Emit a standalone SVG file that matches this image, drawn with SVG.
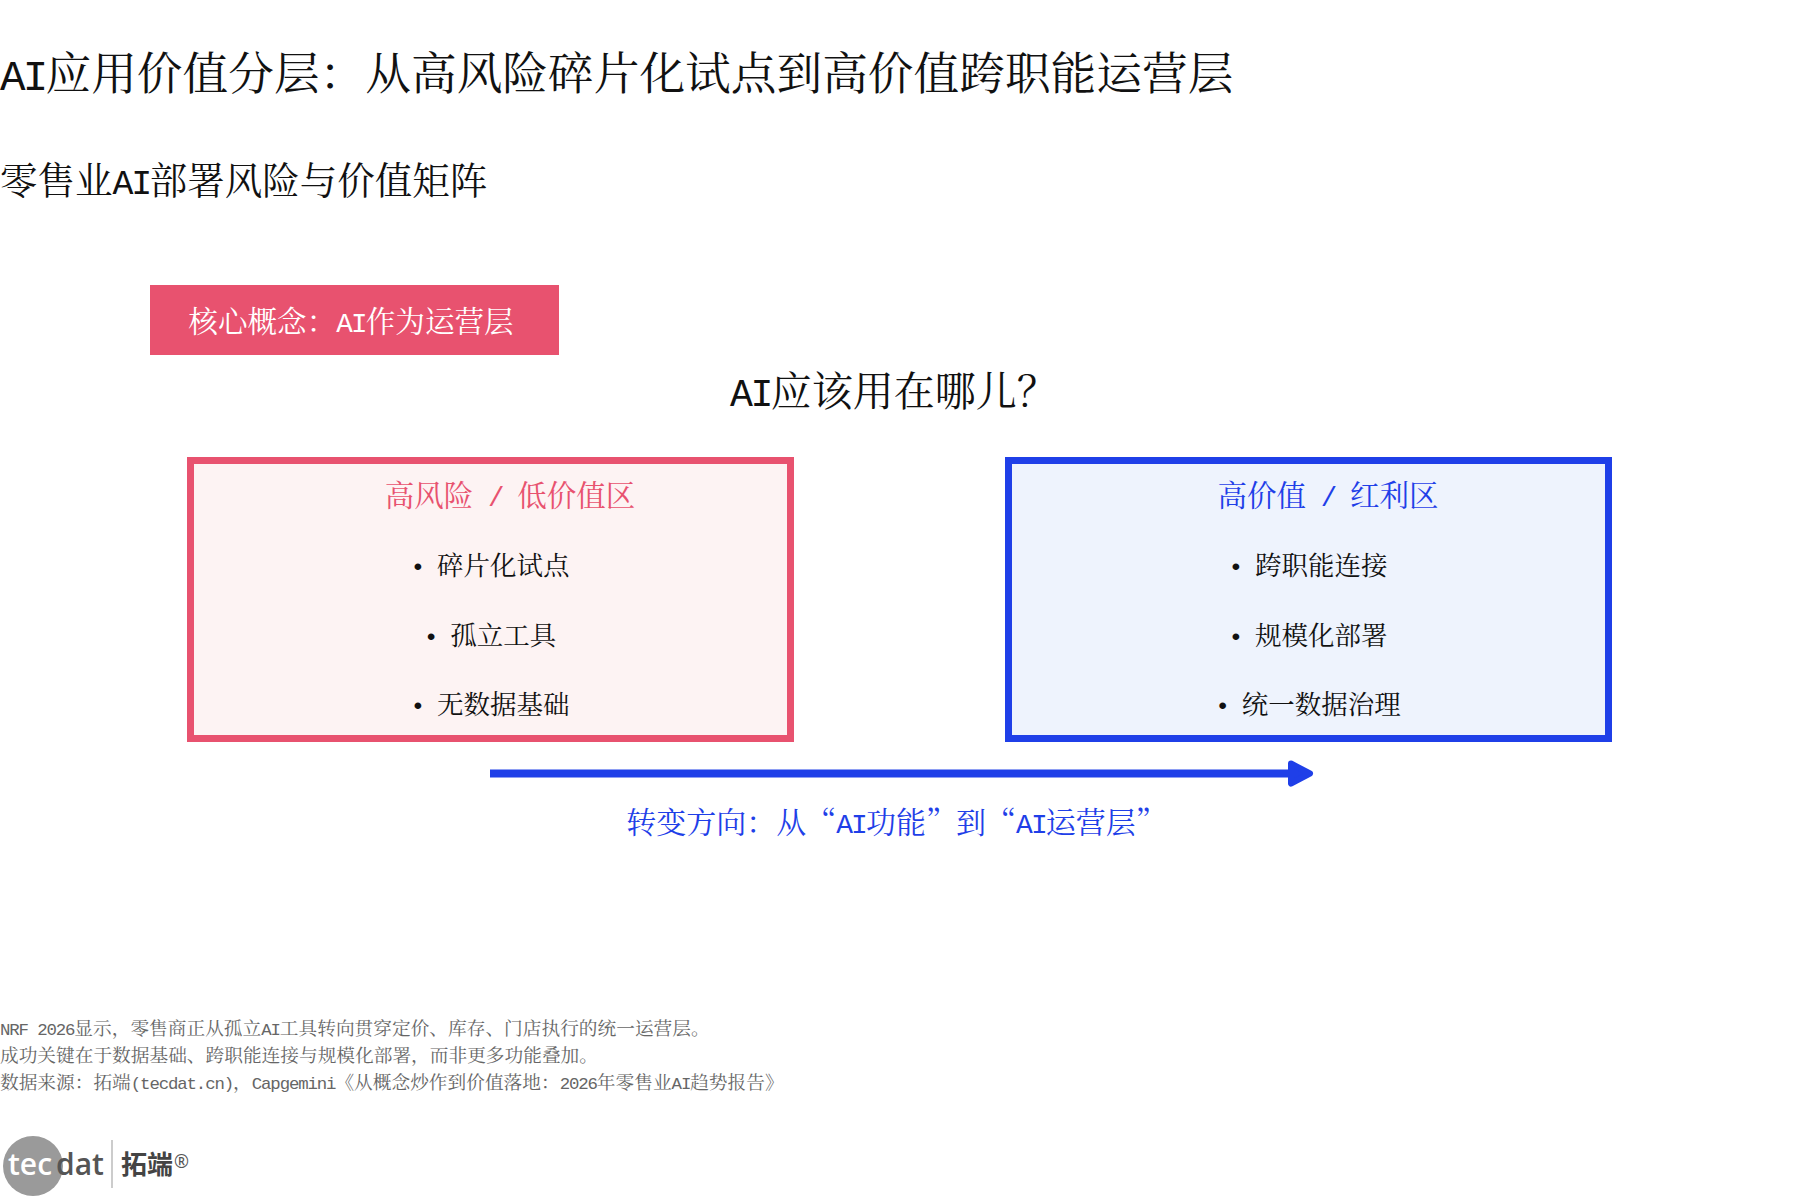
<svg xmlns="http://www.w3.org/2000/svg" width="1800" height="1200" viewBox="0 0 1800 1200">
<style>
text{font-family:"Noto Serif CJK SC","Noto Sans CJK SC",serif;white-space:pre}
.l{font-family:"Liberation Mono",monospace;font-size:.93em;letter-spacing:-.0651em}
.c{text-anchor:middle}
.i{font-size:26.500px;fill:#111;text-anchor:middle}
.h{font-size:29.500px;text-anchor:middle}
.f{font-size:18.700px;fill:#666}
.s{font-family:"Open Sans",sans-serif}
.box{stroke-width:7}
</style>
<rect width="1800" height="1200" fill="#fff"/>
<text x="0" y="90" font-size="45.700" fill="#111"><tspan class="l">AI</tspan>应用价值分层：从高风险碎片化试点到高价值跨职能运营层</text>
<text x="0" y="194" font-size="37.500" fill="#111">零售业<tspan class="l">AI</tspan>部署风险与价值矩阵</text>
<g id="concept"><rect x="150" y="285" width="409" height="70" fill="#e8526f"/><text x="351" y="332" font-size="29.600" fill="#fff" class="c">核心概念：<tspan class="l">AI</tspan>作为运营层</text></g>
<text x="730" y="406" font-size="41" fill="#111"><tspan class="l">AI</tspan>应该用在哪儿？</text>
<g id="risk"><rect class="box" x="190.500" y="460.500" width="600" height="278" fill="#fdf3f3" stroke="#e8526f"/>
<text x="510" y="506" class="h" fill="#e8526f">高风险<tspan class="l"> / </tspan>低价值区</text>
<text x="490" y="575" class="i"><tspan class="l">• </tspan>碎片化试点</text><text x="490" y="645" class="i"><tspan class="l">• </tspan>孤立工具</text><text x="490" y="714" class="i"><tspan class="l">• </tspan>无数据基础</text></g>
<g id="value"><rect class="box" x="1008.500" y="460.500" width="600" height="278" fill="#eef3fd" stroke="#1f3fe8"/>
<text x="1328" y="506" class="h" fill="#1f3fe8">高价值<tspan class="l"> / </tspan>红利区</text>
<text x="1308" y="575" class="i"><tspan class="l">• </tspan>跨职能连接</text><text x="1308" y="645" class="i"><tspan class="l">• </tspan>规模化部署</text><text x="1308" y="714" class="i"><tspan class="l">• </tspan>统一数据治理</text></g>
<g id="connectors"><path d="M490 773.500H1292" stroke="#1f3fe8" stroke-width="8" fill="none"/><path d="M1291 763.500L1310 773.500L1291 783.500Z" fill="#1f3fe8" stroke="#1f3fe8" stroke-width="6" stroke-linejoin="round"/></g>
<text x="896" y="833" font-size="30" fill="#1f3fe8" class="c">转变方向：从“<tspan class="l">AI</tspan>功能”到“<tspan class="l">AI</tspan>运营层”</text>
<text x="0" y="1035" class="f"><tspan class="l">NRF 2026</tspan>显示，零售商正从孤立<tspan class="l">AI</tspan>工具转向贯穿定价、库存、门店执行的统一运营层。</text>
<text x="0" y="1062" class="f">成功关键在于数据基础、跨职能连接与规模化部署，而非更多功能叠加。</text>
<text x="0" y="1089" class="f">数据来源：拓端<tspan class="l">(tecdat.cn)</tspan>，<tspan class="l">Capgemini</tspan>《从概念炒作到价值落地：<tspan class="l">2026</tspan>年零售业<tspan class="l">AI</tspan>趋势报告》</text>
<g id="logo"><circle cx="33" cy="1166" r="30" fill="#9a9a9a"/><text x="8" y="1175" font-size="30" font-weight="600" fill="#fff" class="s">tec</text><text x="56" y="1175" font-size="30" font-weight="600" fill="#555" class="s">dat</text><path d="M112 1140V1188" stroke="#ccc" stroke-width="2"/><text x="121" y="1174" font-size="26" font-weight="700" fill="#444" style="font-family:'Noto Sans CJK SC',sans-serif">拓端</text><text x="174" y="1168" font-size="18" fill="#555" class="s">®</text></g>
</svg>
